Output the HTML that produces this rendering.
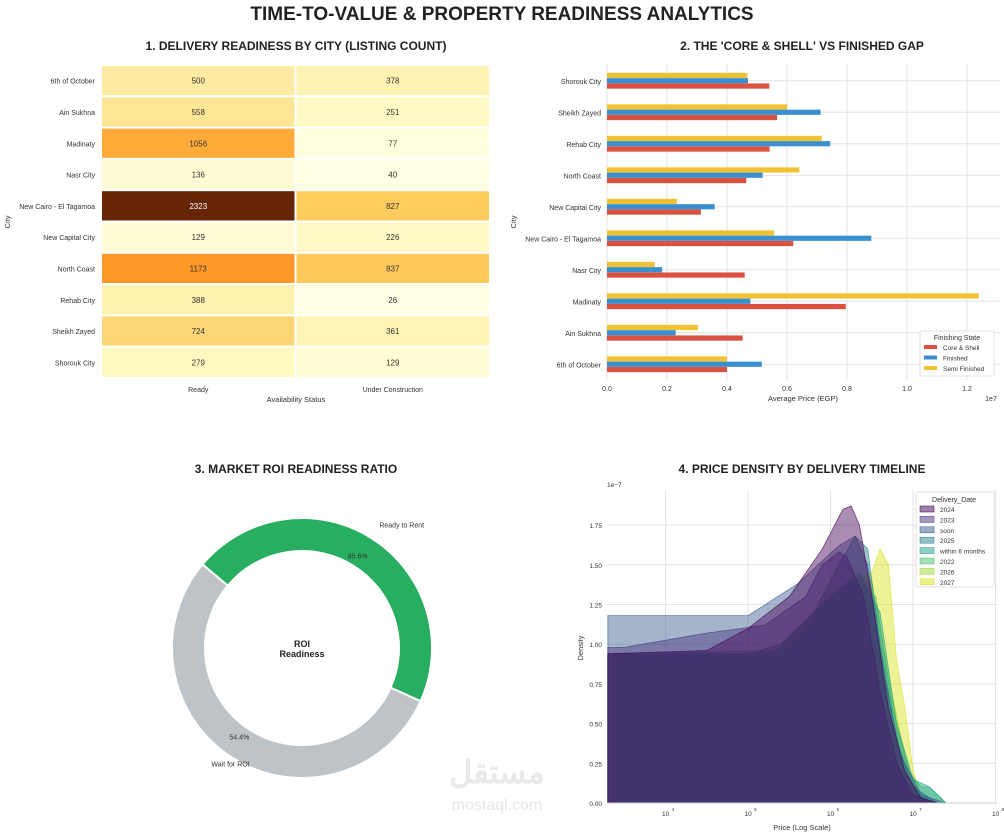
<!DOCTYPE html>
<html><head><meta charset="utf-8"><style>
body{margin:0;background:#fff;}
svg{display:block;font-family:"Liberation Sans",sans-serif;}
</style></head><body>
<svg id="root" width="1004" height="835" viewBox="0 0 1004 835">
<text x="502" y="20" text-anchor="middle" font-size="19" font-weight="bold" fill="#222">TIME-TO-VALUE &amp; PROPERTY READINESS ANALYTICS</text>
<text x="296" y="50" text-anchor="middle" font-size="12" font-weight="bold" fill="#222">1. DELIVERY READINESS BY CITY (LISTING COUNT)</text>
<text x="802" y="50" text-anchor="middle" font-size="12" font-weight="bold" fill="#222">2. THE 'CORE &amp; SHELL' VS FINISHED GAP</text>
<text x="296" y="473" text-anchor="middle" font-size="12" font-weight="bold" fill="#222">3. MARKET ROI READINESS RATIO</text>
<text x="802" y="473" text-anchor="middle" font-size="12" font-weight="bold" fill="#222">4. PRICE DENSITY BY DELIVERY TIMELINE</text>
<g id="heat"></g>
<g id="bars"></g>
<g id="donut"></g>
<g id="dens"></g>
<text x="497" y="783" text-anchor="middle" font-size="32" font-weight="bold" fill="#e0e0e0" opacity="0.7" font-family="'Liberation Sans','Noto Sans CJK SC',sans-serif">مستقل</text>
<text x="497" y="810" text-anchor="middle" font-size="16" fill="#e0e0e0" opacity="0.8">mostaql.com</text>
</svg>
<script>
const NS="http://www.w3.org/2000/svg";
function mk(p,t,a){const e=document.createElementNS(NS,t);for(const k in a)e.setAttribute(k,a[k]);p.appendChild(e);return e;}
function txt(p,x,y,s,a){const e=mk(p,'text',Object.assign({x:x,y:y},a||{}));e.textContent=s;return e;}

// ---------- Heatmap data ----------
const heatCities=["6th of October","Ain Sukhna","Madinaty","Nasr City","New Cairo - El Tagamoa","New Capital City","North Coast","Rehab City","Sheikh Zayed","Shorouk City"];
const heatStatus=["Ready","Under Construction"];
const heatReady=[500,558,1056,136,2323,129,1173,388,724,279];
const heatUnder=[378,251,77,40,827,226,837,26,361,129];

const ylorbr=["#ffffe5","#fff7bc","#fee391","#fec44f","#fe9929","#ec7014","#cc4c02","#993404","#662506"];
function hex2(c){return [1,3,5].map(i=>parseInt(c.substr(i,2),16));}
function cmap(t){t=Math.max(0,Math.min(1,t));const f=t*8,i=Math.min(7,Math.floor(f)),r=f-i;const a=hex2(ylorbr[i]),b=hex2(ylorbr[i+1]);return "rgb("+a.map((v,k)=>Math.round(v+(b[k]-v)*r)).join(",")+")";}
(function(){
 const g=document.getElementById('heat');
 const L=101,R=490,T=65,B=378,rh=(B-T)/heatCities.length,cw=(R-L)/2;
 const all=heatReady.concat(heatUnder),mn=Math.min(...all),mx=Math.max(...all);
 [heatReady,heatUnder].forEach((col,ci)=>{
  col.forEach((v,ri)=>{
   const t=(v-mn)/(mx-mn);
   const r=mk(g,'rect',{x:L+ci*cw,y:T+ri*rh,width:cw,height:rh,fill:cmap(t),stroke:'#fff','stroke-width':2});
   
   
   const tx=txt(g,L+ci*cw+cw/2,T+ri*rh+rh/2+3,String(v),{'text-anchor':'middle','font-size':8,fill:t>0.6?'#fff':'#333'});
   
   
  });
 });
 heatCities.forEach((c,i)=>{const t=txt(g,95,T+i*rh+rh/2+3,c,{'text-anchor':'end','font-size':7,fill:'#333'});
  
  });
 heatStatus.forEach((s,i)=>{const t=txt(g,L+i*cw+cw/2,392,s,{'text-anchor':'middle','font-size':7,fill:'#333'});
  
  });
 const xt=txt(g,296,402,"Availability Status",{'text-anchor':'middle','font-size':7.5,fill:'#333'});
 
 
 const yt=txt(g,0,0,"City",{'text-anchor':'middle','font-size':7.5,fill:'#333',transform:'translate(10,222) rotate(-90)'});
 
 
})();

// ---------- Bar chart data ----------
const barCities=["6th of October","Ain Sukhna","Madinaty","Nasr City","New Cairo - El Tagamoa","New Capital City","North Coast","Rehab City","Sheikh Zayed","Shorouk City"];
const coreShell=[4.00e6,4.52e6,7.96e6,4.59e6,6.21e6,3.13e6,4.64e6,5.42e6,5.67e6,5.41e6];
const finished=[5.16e6,2.29e6,4.78e6,1.84e6,8.81e6,3.59e6,5.19e6,7.44e6,7.12e6,4.70e6];
const semiFinished=[4.00e6,3.03e6,12.39e6,1.59e6,5.57e6,2.33e6,6.41e6,7.16e6,6.01e6,4.68e6];
const barTicks=[0,0.2,0.4,0.6,0.8,1.0,1.2];
(function(){
 const g=document.getElementById('bars');
 const L=607,R=1000,T=65,B=380,x=v=>L+v/1e7*300;
 const n=barCities.length,step=(B-T)/n;
 const yc=i=>B-step*(i+0.5);
 barTicks.forEach(t=>{mk(g,'line',{x1:x(t*1e7),x2:x(t*1e7),y1:T,y2:B,stroke:'#e3e3e3','stroke-width':1});
  const l=txt(g,x(t*1e7),391,t.toFixed(1),{'text-anchor':'middle','font-size':7,fill:'#333'});
  
  });
 barCities.forEach((c,i)=>mk(g,'line',{x1:L,x2:R,y1:yc(i),y2:yc(i),stroke:'#e3e3e3','stroke-width':1}));
 const series=[[semiFinished,'#f1c232',-5.3],[finished,'#3a8fd0',0],[coreShell,'#dc5040',5.3]];
 series.forEach(([vals,col,off])=>{
  vals.forEach((v,i)=>{const r=mk(g,'rect',{x:L,y:yc(i)+off-2.6,width:x(v)-L,height:5.2,fill:col});
   
   });
 });
 barCities.forEach((c,i)=>{const t=txt(g,601,yc(i)+3,c,{'text-anchor':'end','font-size':7,fill:'#333'});
  
  });
 const xt=txt(g,803,401,"Average Price (EGP)",{'text-anchor':'middle','font-size':7.5,fill:'#333'});
 
 
 const ex=txt(g,991,401,"1e7",{'text-anchor':'middle','font-size':7,fill:'#333'});
 
 
 const yt=txt(g,0,0,"City",{'text-anchor':'middle','font-size':7.5,fill:'#333',transform:'translate(516,222) rotate(-90)'});
 
 
 const lg=mk(g,'g',{});
 
 
 mk(lg,'rect',{x:920,y:331,width:74,height:45,fill:'#fff',stroke:'#ddd',rx:2,opacity:0.9});
 txt(lg,957,340,"Finishing State",{'text-anchor':'middle','font-size':7,fill:'#333'});
 [["Core & Shell",'#dc5040'],["Finished",'#3a8fd0'],["Semi Finished",'#f1c232']].forEach(([n,c],i)=>{
  mk(lg,'rect',{x:924,y:345+i*10.5,width:13,height:4,fill:c});
  const t=txt(lg,943,350+i*10.5,n,{'font-size':6.5,fill:'#333'});
  
  
 });
})();

// ---------- Donut data ----------
const roiLabels=["Ready to Rent","Wait for ROI"];
const roiShares=[45.6,54.4];
(function(){
 const g=document.getElementById('donut');
 const cx=302,cy=648,ro=130,ri=97,start=310;
 const cols=['#27ae60','#bdc3c7'];
 let a=start;
 const pt=(deg,r)=>[cx+r*Math.sin(deg*Math.PI/180),cy-r*Math.cos(deg*Math.PI/180)];
 roiShares.forEach((s,i)=>{
  const sw=s/100*360,a2=a+sw,lg=sw>180?1:0;
  const p1=pt(a,ro),p2=pt(a2,ro),p3=pt(a2,ri),p4=pt(a,ri);
  const p=mk(g,'path',{d:`M${p1}L${p1}A${ro},${ro} 0 ${lg} 1 ${p2}L${p3}A${ri},${ri} 0 ${lg} 0 ${p4}Z`,fill:cols[i],stroke:'#fff','stroke-width':2});
  
  
  const mid=a+sw/2,lp=pt(mid,ro*1.12),pp=pt(mid,ro*0.85);
  const right=Math.sin(mid*Math.PI/180)>0;
  const l=txt(g,lp[0]+(right?0:25),lp[1]+(right?3:-5),roiLabels[i],{'text-anchor':right?'start':'end','font-size':7,fill:'#333'});
  
  
  const v=txt(g,pp[0]+(right?-3:-4),pp[1]+(right?4:-2),s.toFixed(1)+"%",{'text-anchor':'middle','font-size':7,fill:'#333'});
  
  
  a=a2;
 });
 const c1=txt(g,cx,cy-1,"ROI",{'text-anchor':'middle','font-size':9,'font-weight':'bold',fill:'#222'});
 
 
 txt(g,cx,cy+9,"Readiness",{'text-anchor':'middle','font-size':9,'font-weight':'bold',fill:'#222'});
})();

// ---------- Density data (x = log10 price, y = density ×1e-7) ----------
const densLabels=["2024","2023","soon","2025","within 6 months","2022","2026","2027"];
const densColors=["#440154","#46327e","#365c8d","#277f8e","#1fa187","#4ac16d","#a0da39","#d8e219"];
const d2024=[[3.3,0.94],[4.5,0.96],[5,1.1],[5.5,1.3],[5.9,1.6],[6.15,1.85],[6.25,1.87],[6.35,1.75],[6.5,1.3],[6.7,0.6],[6.9,0.2],[7.1,0.03],[7.3,0]];
const d2023=[[3.3,0.98],[3.5,0.98],[4.5,1.07],[5.2,1.12],[5.7,1.3],[5.9,1.5],[6.1,1.58],[6.2,1.55],[6.4,1.3],[6.6,0.7],[6.8,0.25],[7,0.05],[7.3,0]];
const dSoon=[[3.3,1.18],[5,1.18],[5.6,1.38],[6.1,1.62],[6.3,1.68],[6.45,1.5],[6.65,0.8],[6.85,0.3],[7.1,0.05],[7.4,0]];
const d2025=[[3.3,0.94],[5,0.94],[5.4,1.0],[5.8,1.2],[6.1,1.5],[6.3,1.68],[6.45,1.6],[6.6,1.0],[6.8,0.4],[7,0.1],[7.3,0]];
const d6m=[[3.3,0.94],[5.5,0.96],[6,1.3],[6.35,1.45],[6.6,1.2],[6.8,0.5],[7.0,0.15],[7.2,0.1],[7.4,0]];
const d2022=[[3.3,0.93],[5.3,0.94],[6.0,1.3],[6.25,1.4],[6.55,1.3],[6.75,0.6],[6.95,0.2],[7.1,0.1],[7.2,0.1],[7.4,0]];
const d2026=[[3.3,0.93],[5.3,0.94],[6,1.3],[6.3,1.4],[6.5,1.4],[6.7,0.8],[6.9,0.3],[7.05,0.05],[7.3,0]];
const d2027=[[3.3,0.93],[5.3,0.94],[6,1.3],[6.3,1.4],[6.5,1.45],[6.6,1.6],[6.7,1.5],[6.8,0.9],[6.9,0.6],[7.0,0.2],[7.1,0.05],[7.3,0]];
const densSeries=[d2024,d2023,dSoon,d2025,d6m,d2022,d2026,d2027];
const densYTicks=[0,0.25,0.5,0.75,1.0,1.25,1.5,1.75];
const densXTicks=[4,5,6,7,8];
(function(){
 const g=document.getElementById('dens');
 const L=607,R=997,T=490,B=803;
 const x=v=>L+(v-3.29)*82.5,y=v=>B-v/0.25*39.7;
 densYTicks.forEach(t=>{mk(g,'line',{x1:L,x2:R,y1:y(t),y2:y(t),stroke:'#e3e3e3'});
  const l=txt(g,602,y(t)+3,t.toFixed(2),{'text-anchor':'end','font-size':6.5,fill:'#333'});
  
  });
 densXTicks.forEach(t=>{mk(g,'line',{x1:x(t),x2:x(t),y1:T,y2:B,stroke:'#e3e3e3'});
  const l=txt(g,x(t),816,"10",{'text-anchor':'middle','font-size':6.5,fill:'#333'});
  
  
  txt(g,x(t)+6,811,String(t),{'font-size':4.5,fill:'#333'});});
 for(let i=densSeries.length-1;i>=0;i--){
  const pts=densSeries[i];
  let d=`M${x(pts[0][0])},${B}`;
  pts.forEach(p=>{d+=`L${Math.max(L,x(p[0]))},${y(p[1])}`;});
  d+=`L${x(pts[pts.length-1][0])},${B}Z`;
  const p=mk(g,'path',{d:d,fill:densColors[i],'fill-opacity':0.45,stroke:densColors[i],'stroke-width':0.8,'stroke-opacity':0.7});
  
  
 }
 mk(g,'line',{x1:L,x2:R,y1:B,y2:B,stroke:'#ccc'});
 txt(g,L,487,"1e\u22127",{'font-size':6.5,fill:'#333'});
 const xt=txt(g,802,830,"Price (Log Scale)",{'text-anchor':'middle','font-size':7.5,fill:'#333'});
 
 
 const yt=txt(g,0,0,"Density",{'text-anchor':'middle','font-size':7.5,fill:'#333',transform:'translate(583,648) rotate(-90)'});
 
 
 const lg=mk(g,'g',{});
 
 
 mk(lg,'rect',{x:916,y:492,width:78,height:95,fill:'#fff',stroke:'#ddd',rx:2,opacity:0.9});
 txt(lg,954,502,"Delivery_Date",{'text-anchor':'middle','font-size':7,fill:'#333'});
 densLabels.forEach((n,i)=>{
  mk(lg,'rect',{x:920,y:506+i*10.4,width:14,height:6,fill:densColors[i],'fill-opacity':0.5,stroke:densColors[i],'stroke-width':0.5});
  const t=txt(lg,940,512+i*10.4,n,{'font-size':6.5,fill:'#333'});
  
  
 });
})();
</script>
</body></html>
